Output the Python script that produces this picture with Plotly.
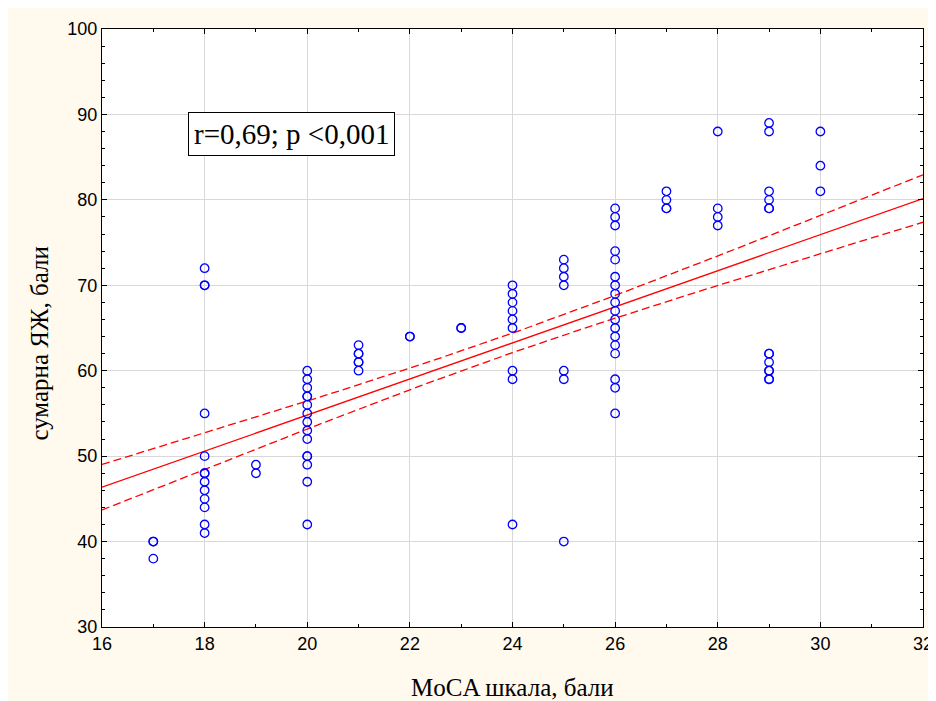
import numpy as np
import plotly.graph_objects as go

# ---- data ----
moca_scores = (
    [17] * 3 + [18] * 13 + [19] * 2 + [20] * 15 + [21] * 6 + [22] * 2 + [23] * 2
    + [24] * 9 + [25] * 7 + [26] * 18 + [27] * 4 + [28] * 4 + [29] * 13 + [30] * 3
)
qol_scores = (
    [40, 40, 38]
    + [72, 70, 70, 55, 50, 48, 48, 47, 46, 45, 44, 42, 41]
    + [49, 48]
    + [60, 59, 58, 57, 57, 56, 55, 54, 53, 52, 50, 50, 49, 47, 42]
    + [63, 62, 62, 61, 61, 60]
    + [64, 64]
    + [65, 65]
    + [70, 69, 68, 67, 66, 65, 60, 59, 42]
    + [73, 72, 71, 70, 60, 59, 40]
    + [79, 78, 77, 74, 73, 71, 70, 69, 68, 67, 66, 65, 64, 63, 62, 59, 58, 55]
    + [81, 80, 79, 79]
    + [88, 79, 78, 77]
    + [89, 88, 81, 80, 79, 79, 62, 62, 61, 60, 60, 59, 59]
    + [88, 84, 81]
)

# regression line and 95% band parameters
fit_slope = 2.112
fit_intercept = 12.57
band_center = 23.8
band_a = 1.3
band_b = 0.095

x_ticks = [16, 18, 20, 22, 24, 26, 28, 30, 32]
y_ticks = [30, 40, 50, 60, 70, 80, 90, 100]
stat_label = "r=0,69; p <0,001"
x_title = "MoCA шкала, бали"
y_title = "сумарна ЯЖ, бали"

# ---- derived curves ----
xg = np.linspace(16, 32, 161)
fit = fit_intercept + fit_slope * xg
hw = np.sqrt(band_a + band_b * (xg - band_center) ** 2)
upper = fit + hw
lower = fit - hw

SERIF = "Liberation Serif, Times New Roman, serif"
SANS = "Liberation Sans, Arial, sans-serif"
CREAM = "#FFF9EE"

fig = go.Figure()
fig.add_trace(go.Scatter(x=xg, y=fit, mode="lines",
                         line=dict(color="#FF0000", width=1.3), hoverinfo="skip"))
fig.add_trace(go.Scatter(x=xg, y=upper, mode="lines",
                         line=dict(color="#FF0000", width=1.3, dash="8px,4px"), hoverinfo="skip"))
fig.add_trace(go.Scatter(x=xg, y=lower, mode="lines",
                         line=dict(color="#FF0000", width=1.3, dash="8px,4px"), hoverinfo="skip"))
fig.add_trace(go.Scatter(x=moca_scores, y=qol_scores, mode="markers",
                         marker=dict(symbol="circle-open", size=8.5, color="#0000FF",
                                     line=dict(color="#0000FF", width=1.3))))

axis_common = dict(
    showline=True, linecolor="black", linewidth=1.2, mirror="ticks",
    ticks="inside", ticklen=5, tickcolor="black", tickwidth=1,
    showgrid=True, gridcolor="#D8D8D8", gridwidth=1, zeroline=False,
    automargin=False,
    tickfont=dict(family=SANS, size=18, color="black"),
)

fig.update_xaxes(range=[16, 32], tickvals=x_ticks, ticktext=[str(v) for v in x_ticks],
                 minor=dict(dtick=1, ticks="inside", ticklen=3, tickcolor="black", showgrid=False),
                 **axis_common)
fig.update_yaxes(range=[30, 100], tickvals=y_ticks, ticktext=[str(v) for v in y_ticks],
                 minor=dict(dtick=2, ticks="inside", ticklen=3, tickcolor="black", showgrid=False),
                 **axis_common)

fig.add_annotation(x=19.69, y=87.75, xref="x", yref="y", text=stat_label, showarrow=False,
                   font=dict(family=SERIF, size=29, color="black"),
                   bgcolor="white", bordercolor="black", borderwidth=1, borderpad=5)
fig.add_annotation(x=0.4994, y=-0.1015, xref="paper", yref="paper", text=x_title,
                   showarrow=False, xanchor="center", yanchor="middle",
                   font=dict(family=SERIF, size=25, color="black"))
fig.add_annotation(x=-0.0755, y=0.474, xref="paper", yref="paper", text=y_title,
                   showarrow=False, xanchor="center", yanchor="middle", textangle=-90,
                   font=dict(family=SERIF, size=25, color="black"))

fig.update_layout(
    width=928, height=693, autosize=False,
    margin=dict(l=94, r=13, t=21, b=74),
    paper_bgcolor=CREAM, plot_bgcolor="white",
    showlegend=False,
)

fig.write_html("out.html")
